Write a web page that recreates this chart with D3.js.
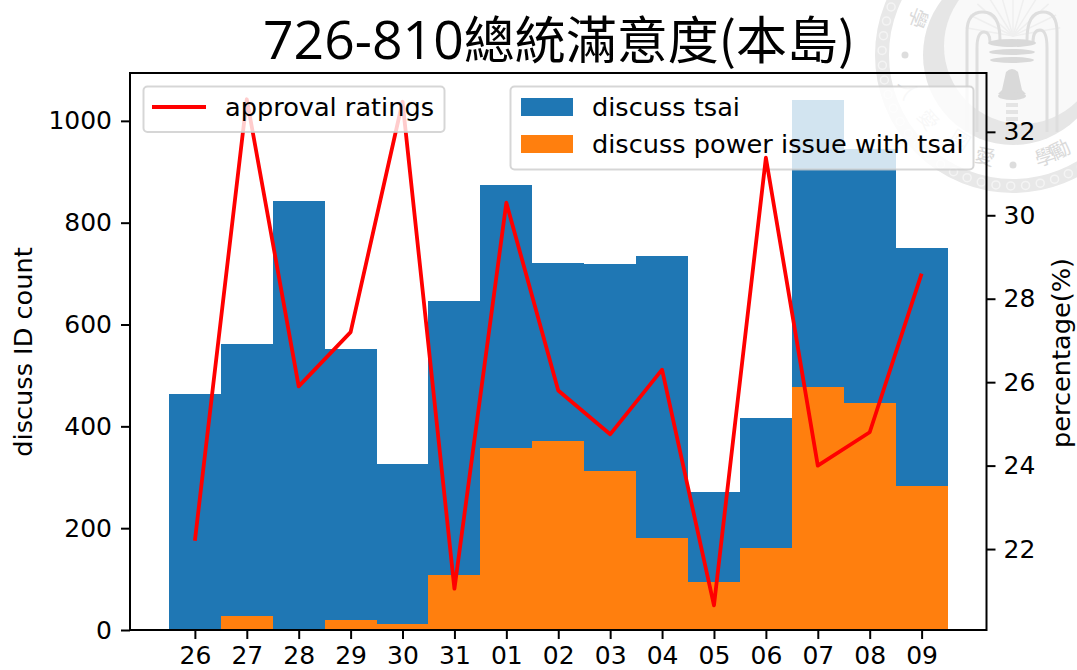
<!DOCTYPE html>
<html>
<head>
<meta charset="utf-8">
<script src="https://cdn.jsdelivr.net/npm/d3@7"></script>
<style>
  html, body { margin: 0; padding: 0; background: #fff; }
  svg { display: block; font-family: "DejaVu Sans", sans-serif; }
</style>
</head>
<body>
<svg id="chart" width="1077" height="670"></svg>
<script>
const days = ["26", "27", "28", "29", "30", "31", "01", "02", "03", "04", "05", "06", "07", "08", "09"]
const discussTsai = [463, 561, 842, 552, 327, 646, 874, 721, 719, 735, 271, 416, 1041, 945, 750]
const discussPower = [0, 28, 0, 20, 12, 109, 357, 372, 313, 180, 95, 161, 477, 446, 282]
const approval = [22.2, 32.78, 25.9, 27.2, 32.72, 21.05, 30.3, 25.8, 24.75, 26.3, 20.65, 31.38, 24.0, 24.8, 28.6]
const leftTicks = [0, 200, 400, 600, 800, 1000]
const rightTicks = [22, 24, 26, 28, 30, 32]

const margin = {left: 130, right: 986.5, top: 73, bottom: 630}
const svg = d3.select("#chart")

const x = d3.scaleLinear().domain([-1.25, 15.25]).range([margin.left, margin.right])
const yLeft = d3.scaleLinear().domain([0, 1094]).range([margin.bottom, margin.top])
const yRight = d3.scaleLinear().domain([20.06, 33.41]).range([margin.bottom, margin.top])

// university seal watermark, sits behind the plot
function drawSeal() {
  const cx = 1013, cy = 55
  const g = svg.append("g").attr("fill", "none")
  g.append("circle").attr("cx", cx).attr("cy", cy).attr("r", 131).attr("stroke-width", 14).attr("stroke", "#e8e8e8")
  g.selectAll(".bead").data(d3.range(0, 360, 6.5)).join("circle")
    .attr("cx", (a) => cx + 131 * Math.cos(a * Math.PI / 180))
    .attr("cy", (a) => cy + 131 * Math.sin(a * Math.PI / 180))
    .attr("r", 4).attr("stroke", "#f4f4f4").attr("stroke-width", 1.5)

  g.append("circle").attr("cx", cx).attr("cy", cy).attr("r", 90).attr("fill", "#e6e6e6")
  g.append("circle").attr("cx", cx + 9).attr("cy", cy - 9).attr("r", 78).attr("fill", "#f9f9f9")

  const palms = g.append("g").attr("stroke", "#efefef").attr("stroke-width", 1.5)
  d3.range(-80, 81, 16).forEach((a) => {
    const r = a * Math.PI / 180
    palms.append("line").attr("x1", cx).attr("y1", 36)
      .attr("x2", cx + 48 * Math.sin(r)).attr("y2", 36 - 48 * Math.cos(r))
  })

  const arches = g.append("g").attr("stroke", "#dedede").attr("stroke-width", 3)
  arches.append("path").attr("d", "M967,132 V32 Q967,12 983,12 Q1000,12 1000,40")
  arches.append("path").attr("d", "M977,132 V48 Q977,32 984,32 Q990,32 990,42")
  arches.append("path").attr("d", "M1057,132 V32 Q1057,12 1043,12 Q1027,12 1027,40")
  arches.append("path").attr("d", "M1047,132 V48 Q1047,30 1040,30 Q1033,30 1033,42")

  const bell = svg.append("g").attr("fill", "#d9d9d9")
  bell.append("ellipse").attr("cx", 1012).attr("cy", 43).attr("rx", 24).attr("ry", 4)
  bell.append("ellipse").attr("cx", 1012).attr("cy", 52).attr("rx", 23).attr("ry", 3)
  bell.append("ellipse").attr("cx", 1012).attr("cy", 60).attr("rx", 22).attr("ry", 3)
  bell.append("path").attr("d", "M1006,72 Q1012,66 1018,72 L1022,90 L1026,94 L998,94 L1002,90 Z")
  bell.append("ellipse").attr("cx", 1012).attr("cy", 96).attr("rx", 14).attr("ry", 4)
  svg.append("g").attr("stroke", "#e4e4e4").attr("stroke-width", 4)
    .selectAll("line").data(d3.range(105, 135, 7)).join("line")
    .attr("x1", 1006).attr("x2", 1018).attr("y1", (d) => d).attr("y2", (d) => d)

  g.append("circle").attr("cx", 905).attr("cy", 55).attr("r", 3.5).attr("fill", "#dddddd")
  g.append("circle").attr("cx", 1013).attr("cy", 165).attr("r", 3.5).attr("fill", "#dddddd")

  const labels = [["學", 918, 18], ["人", 908, 90], ["愛", 928, 120], ["國", 960, 140], ["愛", 985, 157], ["學", 1045, 157], ["勵", 1060, 150]]
  svg.append("g").attr("font-family", "'Noto Sans CJK TC'").attr("font-size", 20).attr("fill", "#dadada")
    .selectAll("text").data(labels).join("text")
    .attr("text-anchor", "middle")
    .attr("dy", "0.35em")
    .attr("transform", (d) => `translate(${d[1]},${d[2]}) rotate(${Math.atan2(cx - d[1], d[2] - cy) * 180 / Math.PI})`)
    .text((d) => d[0])
}
drawSeal()

const bw = x(1) - x(0)

svg.append("g").attr("shape-rendering", "crispEdges").selectAll("rect").data(discussTsai).join("rect")
  .attr("x", (d, i) => x(i - 0.5))
  .attr("y", (d) => yLeft(d))
  .attr("width", bw)
  .attr("height", (d) => yLeft(0) - yLeft(d))
  .attr("fill", "#1f77b4")

svg.append("g").attr("shape-rendering", "crispEdges").selectAll("rect").data(discussPower).join("rect")
  .attr("x", (d, i) => x(i - 0.5))
  .attr("y", (d) => yLeft(d))
  .attr("width", bw)
  .attr("height", (d) => yLeft(0) - yLeft(d))
  .attr("fill", "#ff7f0e")

// legend of the bars is under the line
const barLegend = svg.append("g")
barLegend.append("rect")
  .attr("x", 510.5).attr("y", 86.5).attr("width", 463).attr("height", 83).attr("rx", 4)
  .attr("fill", "rgba(255,255,255,0.8)").attr("stroke", "rgba(204,204,204,0.8)").attr("stroke-width", 2)
const barItems = [["discuss tsai", "#1f77b4", 107], ["discuss power issue with tsai", "#ff7f0e", 144]]
barItems.forEach(([label, color, cy]) => {
  barLegend.append("rect").attr("x", 521).attr("y", cy - 9).attr("width", 52).attr("height", 18).attr("fill", color)
  barLegend.append("text").attr("x", 592).attr("y", cy + 9).attr("font-size", 25.6).attr("fill", "#000").text(label)
})

const line = d3.line().x((d, i) => x(i)).y((d) => yRight(d))
svg.append("path")
  .attr("d", line(approval))
  .attr("fill", "none")
  .attr("stroke", "#ff0000")
  .attr("stroke-width", 3.8)
  .attr("stroke-linejoin", "round")

const lineLegend = svg.append("g")
lineLegend.append("rect")
  .attr("x", 143.5).attr("y", 86.5).attr("width", 301).attr("height", 45.5).attr("rx", 4)
  .attr("fill", "rgba(255,255,255,0.8)").attr("stroke", "rgba(204,204,204,0.8)").attr("stroke-width", 2)
lineLegend.append("line").attr("x1", 152).attr("x2", 206).attr("y1", 107).attr("y2", 107)
  .attr("stroke", "#ff0000").attr("stroke-width", 3.8)
lineLegend.append("text").attr("x", 225).attr("y", 116).attr("font-size", 25.6).attr("fill", "#000").text("approval ratings")

function styleAxis(g) {
  g.select(".domain").remove()
  g.selectAll("line").attr("stroke", "#000").attr("stroke-width", 2)
  g.selectAll("text").attr("font-size", 25).attr("font-family", "'DejaVu Sans'").attr("fill", "#000")
}

svg.append("g")
  .attr("transform", `translate(0,${margin.bottom})`)
  .call(d3.axisBottom(x).tickValues(d3.range(days.length)).tickFormat((i) => days[i]).tickSize(9).tickPadding(7))
  .call(styleAxis)

svg.append("g")
  .attr("transform", `translate(${margin.left},0)`)
  .call(d3.axisLeft(yLeft).tickValues(leftTicks).tickFormat(d3.format("d")).tickSize(9).tickPadding(9))
  .call(styleAxis)

svg.append("g")
  .attr("transform", `translate(${margin.right},0)`)
  .call(d3.axisRight(yRight).tickValues(rightTicks).tickSize(9).tickPadding(8))
  .call(styleAxis)

svg.append("rect")
  .attr("x", margin.left).attr("y", margin.top)
  .attr("width", margin.right - margin.left).attr("height", margin.bottom - margin.top)
  .attr("fill", "none").attr("stroke", "#000").attr("stroke-width", 2)

svg.append("text")
  .attr("text-anchor", "middle")
  .attr("transform", "translate(32,352) rotate(-90)")
  .attr("font-size", 25.6).attr("fill", "#000")
  .text("discuss ID count")

svg.append("text")
  .attr("text-anchor", "middle")
  .attr("transform", "translate(1070,353) rotate(-90)")
  .attr("font-size", 25.6).attr("fill", "#000")
  .text("percentage(%)")

const title = svg.append("text").attr("x", 263).attr("y", 59).attr("fill", "#000")
title.append("tspan").attr("font-family", "'Open Sans'").attr("font-size", 53.5).text("726-810")
title.append("tspan").attr("font-family", "'Noto Sans CJK TC'").attr("font-size", 51).text("總統滿意度(本島)")
</script>
</body>
</html>
